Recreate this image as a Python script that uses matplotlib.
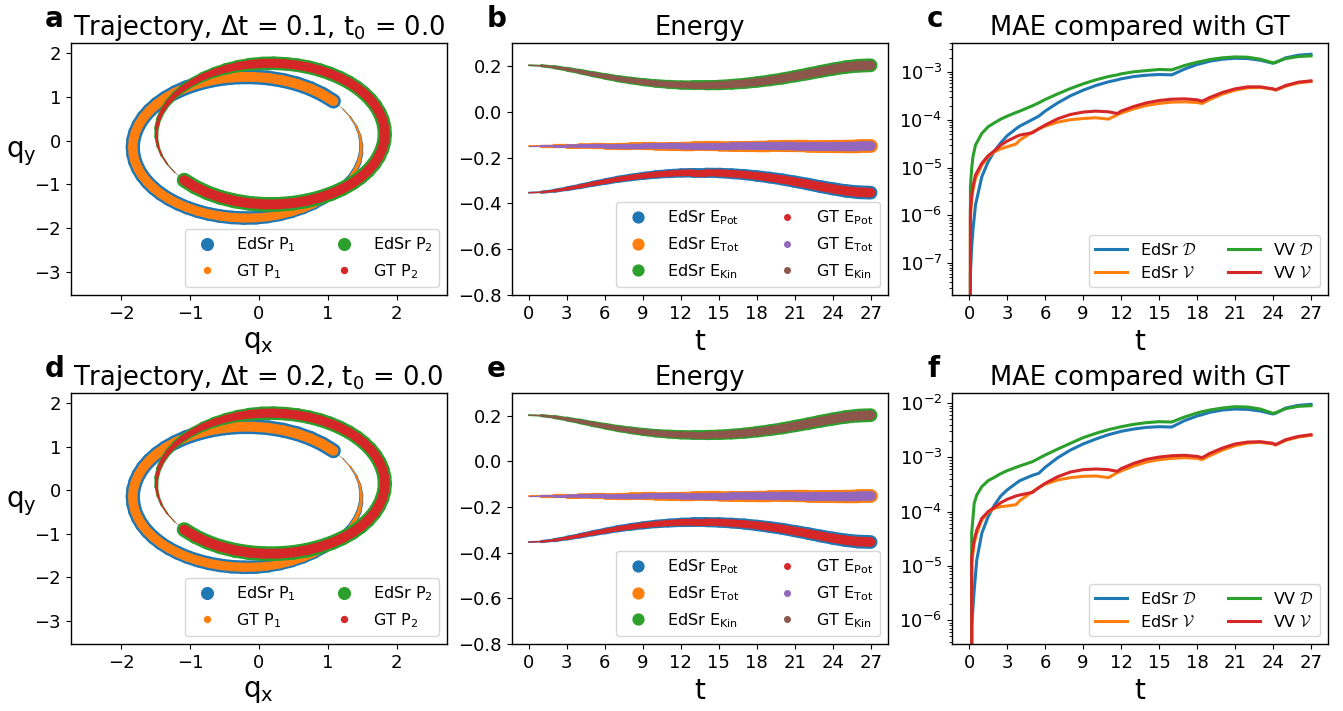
import numpy as np
import matplotlib
matplotlib.use('Agg')
import matplotlib.pyplot as plt
from matplotlib.collections import LineCollection
from matplotlib.lines import Line2D
from matplotlib.font_manager import FontProperties

plt.rcParams['mathtext.default'] = 'regular'
plt.rcParams['axes.linewidth'] = 1.0

# ---------------- data ----------------
traj_t = [0, 0.5, 1, 1.5, 2, 2.5, 3, 3.5, 4, 4.5, 5, 5.5, 6, 6.5, 7, 7.5, 8, 8.5, 9, 9.5, 10, 10.5, 11, 11.5,
          12, 12.5, 13, 13.5, 14, 14.5, 15, 15.5, 16, 16.5, 17, 17.5, 18, 18.5, 19, 19.5, 20, 20.5, 21, 21.5,
          22, 22.5, 23, 23.5, 24, 24.5, 25, 25.5, 26, 26.5, 27]
p1_x = [1.083, 1.218, 1.327, 1.410, 1.463, 1.488, 1.484, 1.453, 1.397, 1.317, 1.215, 1.096, 0.960, 0.812,
        0.653, 0.486, 0.314, 0.138, -0.039, -0.215, -0.390, -0.560, -0.726, -0.884, -1.034, -1.175, -1.305,
        -1.423, -1.528, -1.618, -1.694, -1.753, -1.796, -1.822, -1.830, -1.820, -1.790, -1.742, -1.675, -1.588,
        -1.483, -1.359, -1.217, -1.057, -0.883, -0.695, -0.495, -0.288, -0.075, 0.140, 0.351, 0.555, 0.748,
        0.924, 1.083]
p1_y = [0.905, 0.731, 0.542, 0.341, 0.133, -0.077, -0.288, -0.492, -0.689, -0.874, -1.045, -1.200, -1.337,
        -1.457, -1.557, -1.638, -1.700, -1.742, -1.765, -1.769, -1.756, -1.725, -1.677, -1.613, -1.534, -1.440,
        -1.334, -1.215, -1.084, -0.945, -0.796, -0.640, -0.479, -0.313, -0.144, 0.026, 0.196, 0.363, 0.527,
        0.684, 0.833, 0.972, 1.098, 1.210, 1.303, 1.377, 1.429, 1.456, 1.457, 1.432, 1.378, 1.298, 1.190,
        1.059, 0.905]
p2_x = [-1.083, -1.218, -1.327, -1.410, -1.463, -1.488, -1.484, -1.453, -1.397, -1.317, -1.215, -1.096, -0.960,
        -0.812, -0.653, -0.486, -0.314, -0.138, 0.039, 0.215, 0.390, 0.560, 0.726, 0.884, 1.034, 1.175, 1.305,
        1.423, 1.528, 1.618, 1.694, 1.753, 1.796, 1.822, 1.830, 1.820, 1.790, 1.742, 1.675, 1.588, 1.483,
        1.359, 1.217, 1.057, 0.883, 0.695, 0.495, 0.288, 0.075, -0.140, -0.351, -0.555, -0.748, -0.924, -1.083]
p2_y = [-0.905, -0.731, -0.542, -0.341, -0.133, 0.077, 0.288, 0.492, 0.689, 0.874, 1.045, 1.200, 1.337,
        1.457, 1.557, 1.638, 1.700, 1.742, 1.765, 1.769, 1.756, 1.725, 1.677, 1.613, 1.534, 1.440, 1.334,
        1.215, 1.084, 0.945, 0.796, 0.640, 0.479, 0.313, 0.144, -0.026, -0.196, -0.363, -0.527, -0.684,
        -0.833, -0.972, -1.098, -1.210, -1.303, -1.377, -1.429, -1.456, -1.457, -1.432, -1.378, -1.298,
        -1.190, -1.059, -0.905]

energy_t = list(range(28))
e_kin = [0.203, 0.201, 0.195, 0.186, 0.176, 0.165, 0.155, 0.145, 0.137, 0.130, 0.124, 0.120, 0.117, 0.116,
         0.116, 0.117, 0.120, 0.124, 0.130, 0.137, 0.145, 0.155, 0.165, 0.176, 0.186, 0.195, 0.201, 0.203]
e_pot = [-0.353, -0.351, -0.345, -0.336, -0.326, -0.315, -0.305, -0.295, -0.287, -0.280, -0.274, -0.270, -0.267, -0.266,
         -0.266, -0.267, -0.270, -0.274, -0.280, -0.287, -0.295, -0.305, -0.315, -0.326, -0.336, -0.345, -0.351, -0.353]
e_tot = [-0.150, -0.150, -0.150, -0.150, -0.150, -0.150, -0.150, -0.150, -0.150, -0.150, -0.150, -0.150, -0.150, -0.150,
         -0.150, -0.150, -0.150, -0.150, -0.150, -0.150, -0.150, -0.150, -0.150, -0.150, -0.150, -0.150, -0.150, -0.150]

# MAE, dt = 0.1
mae_t_1 = [0, 0.1, 0.2, 0.3, 0.5, 1, 1.5, 2, 2.5, 3, 3.7, 4, 5, 5.5, 6, 7, 8, 9, 10, 11, 11.7, 12, 13, 14, 15,
           16, 17, 18, 18.4, 19, 20, 21, 22, 23, 24, 24.2, 25, 26, 27]
edsr_D_1 = [0, 6.14e-8, 2.22e-7, 4.95e-7, 1.65e-6, 6.46e-6, 1.33e-5, 2.23e-5, 3.32e-5, 4.66e-5, 6.52e-5, 7.42e-5,
            1.02e-4, 1.20e-4, 1.53e-4, 2.28e-4, 3.20e-4, 4.20e-4, 5.26e-4, 6.28e-4, 6.91e-4, 7.25e-4, 8.11e-4,
            8.65e-4, 8.94e-4, 8.79e-4, 1.16e-3, 1.45e-3, 1.54e-3, 1.70e-3, 1.87e-3, 1.96e-3, 1.93e-3, 1.78e-3,
            1.54e-3, 1.59e-3, 2.00e-3, 2.27e-3, 2.38e-3]
edsr_V_1 = [0, 9.40e-7, 2.10e-6, 3.40e-6, 5.96e-6, 1.13e-5, 1.69e-5, 2.15e-5, 2.49e-5, 2.74e-5, 3.12e-5, 3.78e-5,
            5.56e-5, 6.52e-5, 7.42e-5, 9.00e-5, 1.01e-4, 1.07e-4, 1.11e-4, 1.04e-4, 1.28e-4, 1.39e-4, 1.71e-4,
            2.01e-4, 2.21e-4, 2.36e-4, 2.39e-4, 2.32e-4, 2.21e-4, 2.68e-4, 3.47e-4, 4.20e-4, 4.70e-4, 4.78e-4,
            4.41e-4, 4.20e-4, 5.09e-4, 5.98e-4, 6.38e-4]
vv_D_1 = [0, 3.99e-6, 9.66e-6, 1.69e-5, 2.97e-5, 5.21e-5, 7.18e-5, 8.71e-5, 1.04e-4, 1.20e-4, 1.43e-4, 1.53e-4,
          1.98e-4, 2.28e-4, 2.68e-4, 3.52e-4, 4.55e-4, 5.70e-4, 6.91e-4, 8.11e-4, 8.79e-4, 9.23e-4, 1.02e-3,
          1.08e-3, 1.14e-3, 1.12e-3, 1.38e-3, 1.62e-3, 1.70e-3, 1.84e-3, 2.00e-3, 2.09e-3, 2.06e-3, 1.87e-3,
          1.57e-3, 1.62e-3, 1.93e-3, 2.13e-3, 2.20e-3]
vv_V_1 = [0, 1.30e-6, 2.67e-6, 3.99e-6, 7.00e-6, 1.23e-5, 1.78e-5, 2.26e-5, 2.97e-5, 3.60e-5, 4.44e-5, 4.81e-5,
          5.38e-5, 6.52e-5, 7.78e-5, 1.06e-4, 1.30e-4, 1.46e-4, 1.53e-4, 1.48e-4, 1.36e-4, 1.53e-4, 1.91e-4,
          2.28e-4, 2.55e-4, 2.72e-4, 2.77e-4, 2.64e-4, 2.47e-4, 2.95e-4, 3.76e-4, 4.48e-4, 4.93e-4, 4.93e-4,
          4.48e-4, 4.27e-4, 5.26e-4, 6.18e-4, 6.59e-4]

# MAE, dt = 0.2
mae_t_2 = [0, 0.2, 0.4, 0.6, 1, 1.5, 2, 2.5, 3, 3.7, 4, 5, 5.5, 6, 7, 8, 9, 10, 11, 11.7, 12, 13, 14, 15,
           16, 17, 18, 18.4, 19, 20, 21, 22, 23, 24, 24.2, 25, 26, 27]
edsr_D_2 = [0, 7.60e-7, 3.60e-6, 1.28e-5, 3.98e-5, 8.07e-5, 1.32e-4, 1.94e-4, 2.50e-4, 3.31e-4, 3.71e-4, 4.66e-4,
            5.07e-4, 6.53e-4, 9.84e-4, 1.36e-3, 1.76e-3, 2.17e-3, 2.61e-3, 2.88e-3, 3.01e-3, 3.32e-3, 3.56e-3,
            3.66e-3, 3.61e-3, 4.73e-3, 5.76e-3, 6.10e-3, 6.73e-3, 7.43e-3, 7.75e-3, 7.64e-3, 7.12e-3, 6.27e-3,
            6.45e-3, 8.09e-3, 9.06e-3, 9.45e-3]
edsr_V_2 = [0, 1.11e-5, 2.60e-5, 3.98e-5, 7.00e-5, 9.69e-5, 1.15e-4, 1.23e-4, 1.27e-4, 1.34e-4, 1.59e-4, 2.33e-4,
            2.76e-4, 3.22e-4, 3.82e-4, 4.22e-4, 4.46e-4, 4.53e-4, 4.22e-4, 5.21e-4, 5.60e-4, 6.92e-4, 8.19e-4,
            9.04e-4, 9.57e-4, 9.84e-4, 9.57e-4, 9.04e-4, 1.07e-3, 1.36e-3, 1.64e-3, 1.83e-3, 1.89e-3, 1.76e-3,
            1.68e-3, 2.05e-3, 2.36e-3, 2.54e-3]
vv_D_2 = [0, 3.98e-5, 1.42e-4, 2.02e-4, 2.88e-4, 3.71e-4, 4.28e-4, 5.00e-4, 5.67e-4, 6.53e-4, 6.92e-4, 8.31e-4,
          9.57e-4, 1.10e-3, 1.42e-3, 1.81e-3, 2.30e-3, 2.76e-3, 3.23e-3, 3.52e-3, 3.66e-3, 4.05e-3, 4.35e-3,
          4.53e-3, 4.47e-3, 5.52e-3, 6.55e-3, 6.92e-3, 7.43e-3, 8.09e-3, 8.56e-3, 8.44e-3, 7.75e-3, 6.45e-3,
          6.64e-3, 7.87e-3, 8.69e-3, 8.93e-3]
vv_V_2 = [0, 1.48e-5, 3.00e-5, 4.58e-5, 7.52e-5, 9.98e-5, 1.20e-4, 1.46e-4, 1.68e-4, 1.94e-4, 2.02e-4, 2.26e-4,
          2.76e-4, 3.31e-4, 4.40e-4, 5.36e-4, 5.92e-4, 6.09e-4, 5.92e-4, 5.51e-4, 6.18e-4, 7.74e-4, 9.17e-4,
          1.01e-3, 1.07e-3, 1.09e-3, 1.04e-3, 9.84e-4, 1.18e-3, 1.48e-3, 1.76e-3, 1.91e-3, 1.94e-3, 1.81e-3,
          1.71e-3, 2.11e-3, 2.43e-3, 2.61e-3]

C = ['#1f77b4', '#ff7f0e', '#2ca02c', '#d62728', '#9467bd', '#8c564b']
TICK_FS = 13
TITLE_FS = 18.5
LABEL_FS = 20
LEG_FS = 11.5


def energy_width(tm, tmax, dmax):
    return dmax * np.sqrt(tm / tmax)


def traj_width(tm, tmax, dmax):
    return dmax * (0.85 * np.minimum(1.0, tm / 9.0) + 0.15 * tm / tmax)


def band(ax, t, x, y, dmax, color, z, wfun):
    t = np.asarray(t, float)
    pts = np.column_stack([np.asarray(x, float), np.asarray(y, float)])
    segs = np.stack([pts[:-1], pts[1:]], axis=1)
    tm = (t[:-1] + t[1:]) / 2.0
    widths = wfun(tm, t[-1], dmax)
    lc = LineCollection(segs, linewidths=widths, colors=color, capstyle='round',
                        joinstyle='round', zorder=z)
    ax.add_collection(lc)


def dot(color, ms, label):
    return Line2D([], [], marker='o', ls='', color=color, markersize=ms, label=label)


fig = plt.figure(figsize=(13.43, 7.11), dpi=100)
W = 0.2800
lefts = [0.0527, 0.3810, 0.7089]
bottoms = [0.5850, 0.0942]
H = [0.3544, 0.3530]


def traj_panel(ax, dt):
    band(ax, traj_t, p1_x, p1_y, 10.8, C[0], 2, traj_width)
    band(ax, traj_t, p1_x, p1_y, 7.2, C[1], 3, traj_width)
    band(ax, traj_t, p2_x, p2_y, 10.8, C[2], 4, traj_width)
    band(ax, traj_t, p2_x, p2_y, 7.2, C[3], 5, traj_width)
    ax.set_xlim(-2.73, 2.73)
    ax.set_ylim(-3.53, 2.23)
    ax.set_xticks([-2, -1, 0, 1, 2])
    ax.set_yticks([-3, -2, -1, 0, 1, 2])
    ax.tick_params(labelsize=TICK_FS)
    ax.set_title(r'Trajectory, $\Delta$t = %s, t$_0$ = 0.0' % dt, fontsize=TITLE_FS)
    ax.set_xlabel(r'q$_x$', fontsize=LABEL_FS)
    ax.set_ylabel(r'q$_y$', fontsize=LABEL_FS, rotation=0, ha='center', va='center')
    ax.yaxis.set_label_coords(-0.13, 0.56)
    handles = [dot(C[0], 8.4, r'EdSr P$_1$'), dot(C[1], 4.3, r'GT P$_1$'),
               dot(C[2], 8.4, r'EdSr P$_2$'), dot(C[3], 4.3, r'GT P$_2$')]
    ax.legend(handles=handles, ncol=2, loc='lower right', fontsize=LEG_FS)


def energy_panel(ax):
    band(ax, energy_t, energy_t, e_pot, 10.0, C[0], 2, energy_width)
    band(ax, energy_t, energy_t, e_tot, 10.0, C[1], 2, energy_width)
    band(ax, energy_t, energy_t, e_kin, 10.0, C[2], 2, energy_width)
    band(ax, energy_t, energy_t, e_pot, 7.0, C[3], 3, energy_width)
    band(ax, energy_t, energy_t, e_tot, 7.0, C[4], 3, energy_width)
    band(ax, energy_t, energy_t, e_kin, 7.0, C[5], 3, energy_width)
    ax.set_xlim(-1.35, 28.35)
    ax.set_ylim(-0.8, 0.3)
    ax.set_xticks(range(0, 28, 3))
    ax.set_yticks([0.2, 0.0, -0.2, -0.4, -0.6, -0.8])
    ax.tick_params(labelsize=TICK_FS)
    ax.set_title('Energy', fontsize=TITLE_FS)
    ax.set_xlabel('t', fontsize=LABEL_FS)
    handles = [dot(C[0], 7.8, r'EdSr E$_{Pot}$'), dot(C[1], 7.8, r'EdSr E$_{Tot}$'),
               dot(C[2], 7.8, r'EdSr E$_{Kin}$'), dot(C[3], 4.0, r'GT E$_{Pot}$'),
               dot(C[4], 4.0, r'GT E$_{Tot}$'), dot(C[5], 4.0, r'GT E$_{Kin}$')]
    ax.legend(handles=handles, ncol=2, loc='lower right', fontsize=LEG_FS)


def mae_panel(ax, t, eD, eV, vD, vV, ylim):
    ax.plot(t, eD, color=C[0], lw=2.2, label=r'EdSr $\mathcal{D}$')
    ax.plot(t, eV, color=C[1], lw=2.2, label=r'EdSr $\mathcal{V}$')
    ax.plot(t, vD, color=C[2], lw=2.2, label=r'VV $\mathcal{D}$')
    ax.plot(t, vV, color=C[3], lw=2.2, label=r'VV $\mathcal{V}$')
    ax.set_yscale('log')
    ax.set_ylim(*ylim)
    ax.set_xlim(-1.35, 28.35)
    ax.set_xticks(range(0, 28, 3))
    ax.tick_params(labelsize=TICK_FS)
    ax.set_title('MAE compared with GT', fontsize=TITLE_FS)
    ax.set_xlabel('t', fontsize=LABEL_FS)
    ax.legend(ncol=2, loc='lower right', prop=FontProperties(size=LEG_FS, math_fontfamily='cm'))


axs = []
for r in range(2):
    row = [fig.add_axes([lefts[c], bottoms[r], W, H[r]]) for c in range(3)]
    axs.append(row)

traj_panel(axs[0][0], '0.1')
energy_panel(axs[0][1])
mae_panel(axs[0][2], mae_t_1, edsr_D_1, edsr_V_1, vv_D_1, vv_V_1, (10 ** -7.67, 10 ** -2.39))
traj_panel(axs[1][0], '0.2')
energy_panel(axs[1][1])
mae_panel(axs[1][2], mae_t_2, edsr_D_2, edsr_V_2, vv_D_2, vv_V_2, (10 ** -6.44, 10 ** -1.816))

letters = [('a', 45, 27), ('b', 487, 27), ('c', 927, 27), ('d', 45, 377), ('e', 487, 377), ('f', 927, 377)]
for s, px, py in letters:
    fig.text(px / 1343, 1 - py / 711, s, fontsize=20, fontweight='bold', va='baseline', ha='left')

fig.savefig('out.png', dpi=100)
